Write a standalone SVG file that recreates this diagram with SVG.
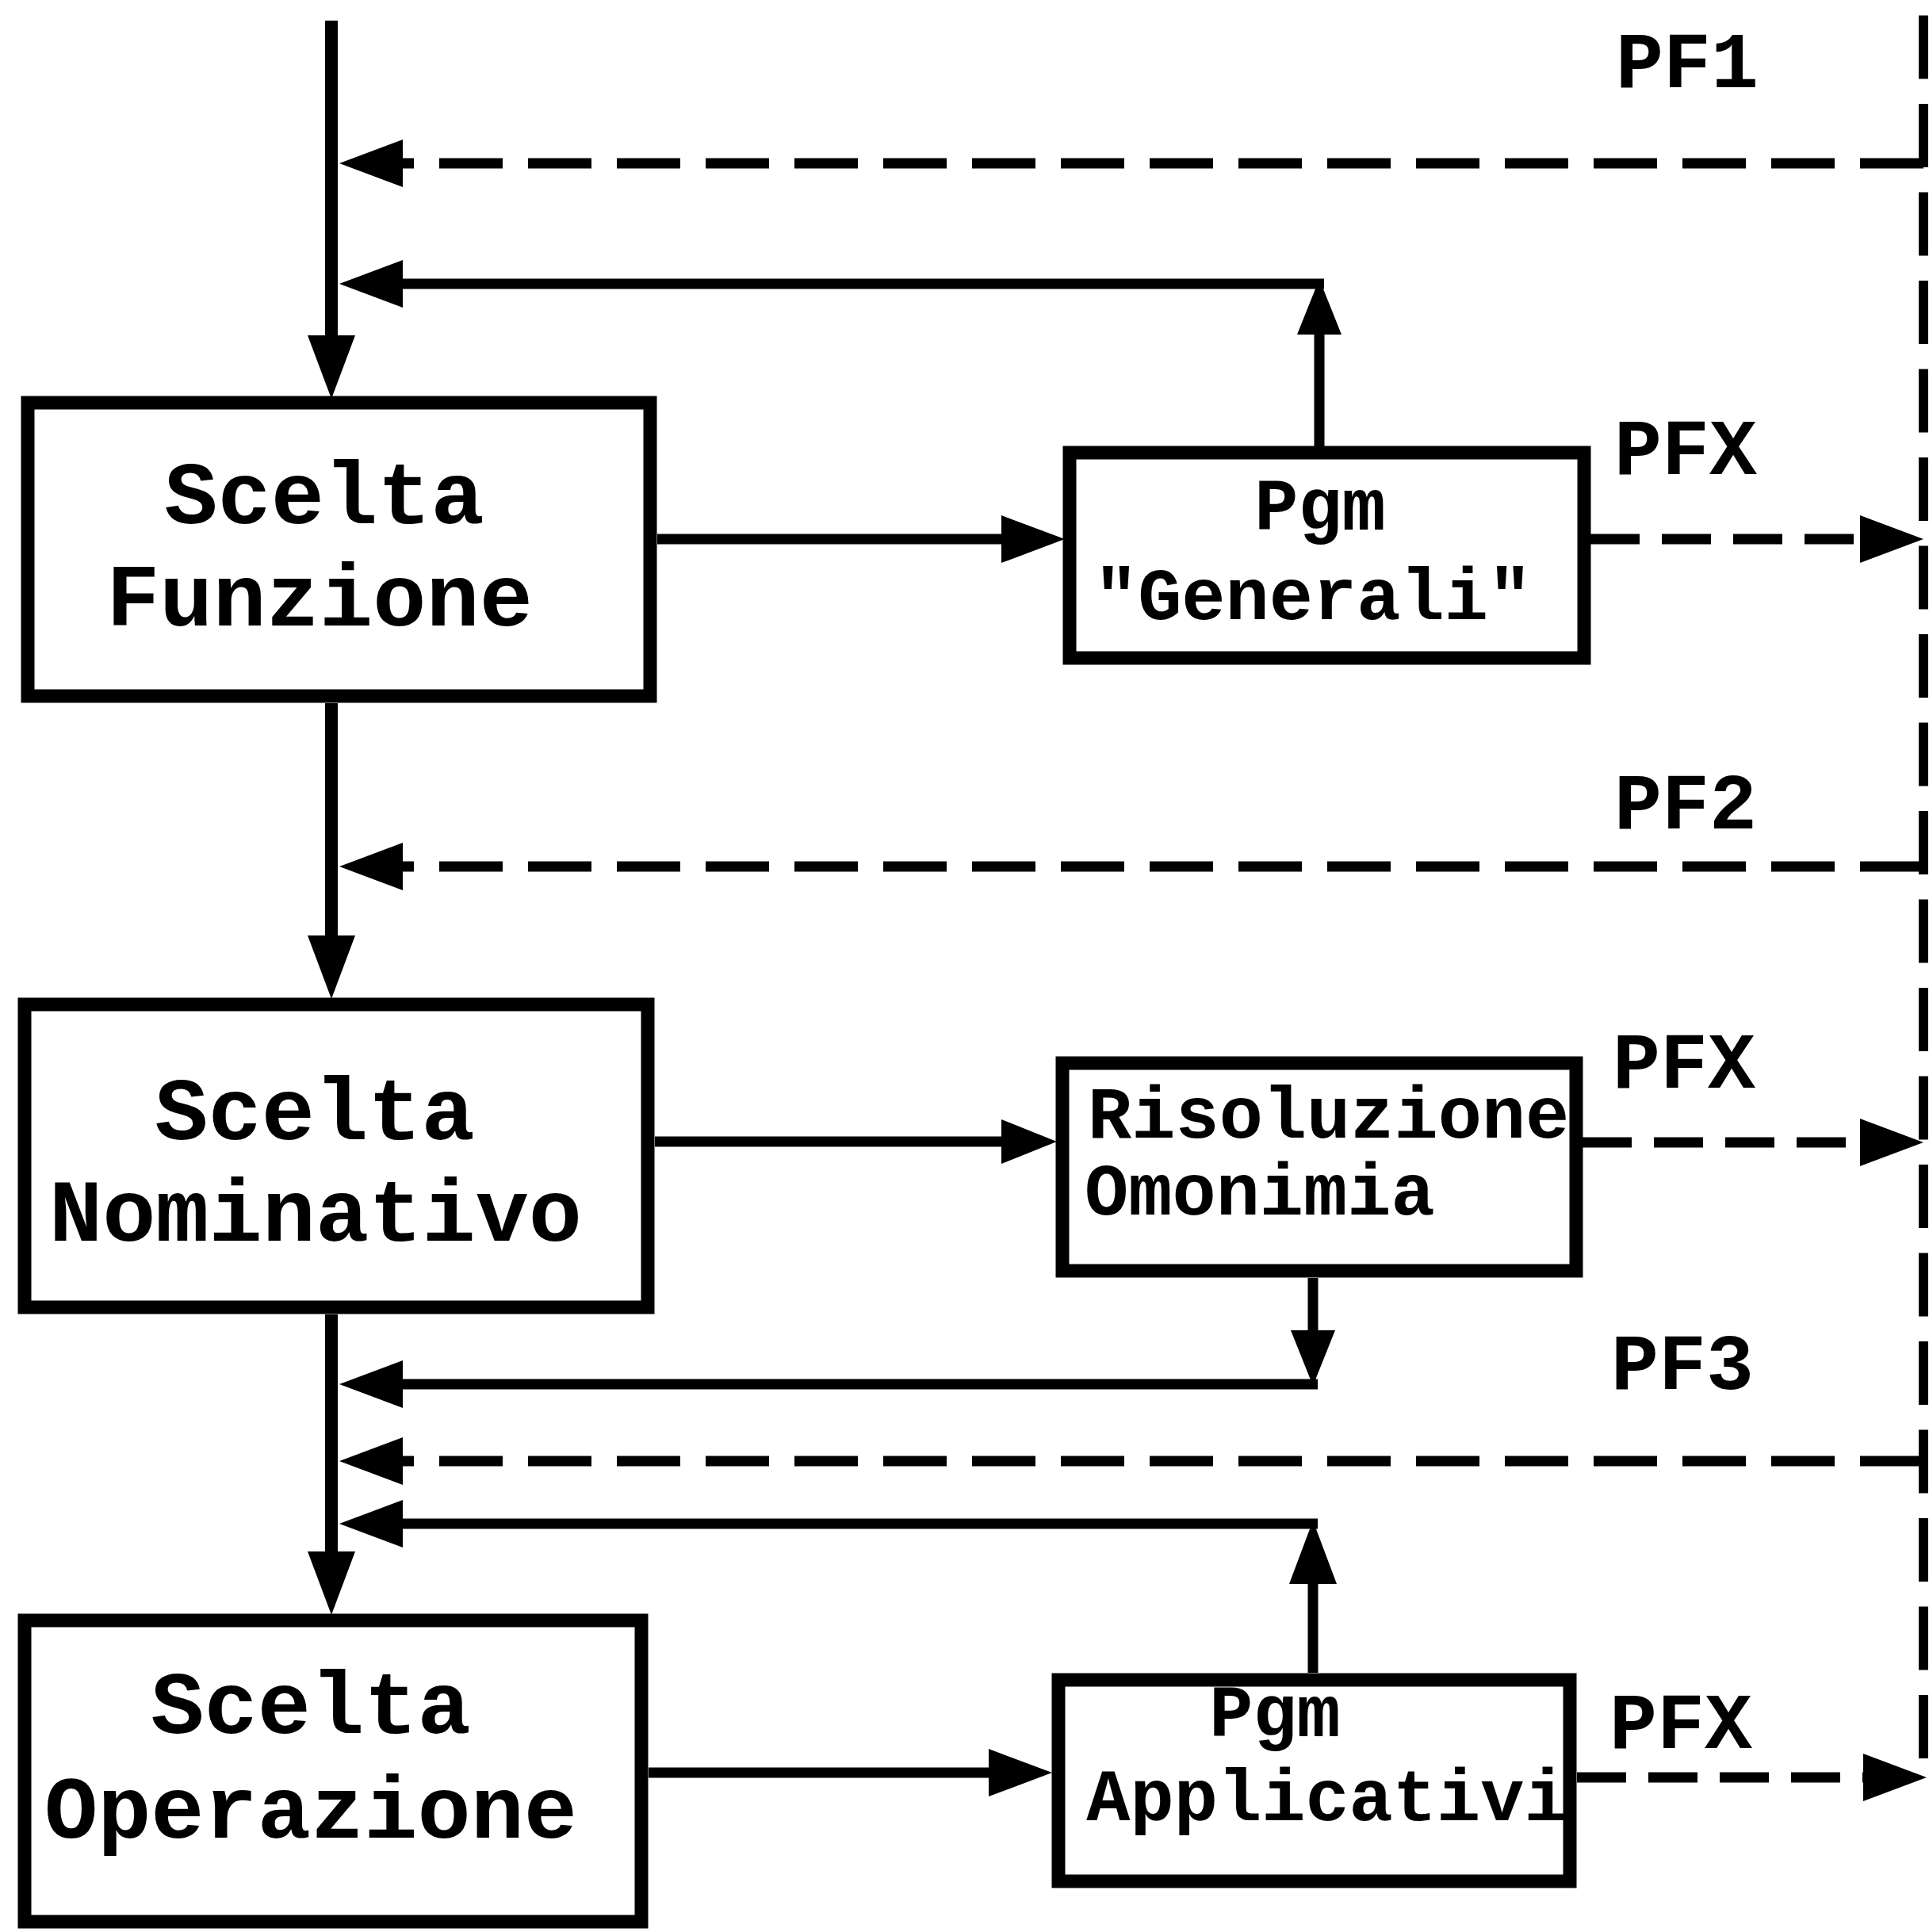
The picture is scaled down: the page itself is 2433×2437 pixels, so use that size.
<svg xmlns="http://www.w3.org/2000/svg" width="2433" height="2437" viewBox="0 0 2433 2437">
  <style>
    .box { fill: #ffffff; stroke: #000000; stroke-width: 17; }
    .txt { font-family: "Liberation Mono", "DejaVu Sans Mono", monospace; font-weight: bold; fill: #000000; }
    .big { font-size: 112px; }
    .small { font-size: 92px; }
    .pf { font-size: 100px; }
    .ln { stroke: #000000; stroke-width: 13; fill: none; }
    .trunk { stroke-width: 16; }
    .dash { stroke-dasharray: 80 32; }
    .dash2 { stroke-dasharray: 62 28; }
    .edge { stroke-width: 12; stroke-dasharray: 80 31.5; }
  </style>
  <defs>
    <!-- arrowheads: the line stops halfway into the head so its end is hidden -->
    <marker id="ah" markerUnits="userSpaceOnUse" viewBox="0 0 80 64" refX="40" refY="32" markerWidth="80" markerHeight="64" orient="auto">
      <path d="M0,2 L80,32 L0,62 Z" fill="#000000"/>
    </marker>
    <marker id="ahs" markerUnits="userSpaceOnUse" viewBox="0 0 70 60" refX="35" refY="30" markerWidth="70" markerHeight="60" orient="auto">
      <path d="M0,2 L70,30 L0,58 Z" fill="#000000"/>
    </marker>
  </defs>

  <!-- connectors -->
  <g id="connectors">
    <!-- main flow trunk -->
    <path class="ln trunk" d="M418,26 V463" marker-end="url(#ah)"/>
    <path class="ln trunk" d="M418,887 V1220" marker-end="url(#ah)"/>
    <path class="ln trunk" d="M418,1658 V1997" marker-end="url(#ah)"/>

    <!-- right-hand dashed bus -->
    <path class="ln edge" d="M2426,2218 V0"/>

    <!-- PF1 return -->
    <path class="ln dash" d="M2426,206 H468" marker-end="url(#ah)"/>
    <!-- return from Pgm "Generali" -->
    <path class="ln" d="M1664,571 V387" marker-end="url(#ahs)"/>
    <path class="ln" d="M1670,358 H468" marker-end="url(#ah)"/>
    <!-- Scelta Funzione to Pgm "Generali" -->
    <path class="ln" d="M829,680 H1303" marker-end="url(#ah)"/>
    <!-- PFX out of Pgm "Generali" -->
    <path class="ln dash2" d="M2006,680 H2386" marker-end="url(#ah)"/>

    <!-- PF2 return -->
    <path class="ln dash" d="M2426,1093 H468" marker-end="url(#ah)"/>
    <!-- Scelta Nominativo to Risoluzione Omonimia -->
    <path class="ln" d="M826,1440 H1298" marker-end="url(#ahs)"/>
    <!-- PFX out of Risoluzione Omonimia -->
    <path class="ln dash2" d="M1996,1441 H2386" marker-end="url(#ah)"/>
    <!-- return from Risoluzione Omonimia -->
    <path class="ln" d="M1656,1612 V1713" marker-end="url(#ahs)"/>
    <path class="ln" d="M1662,1746 H468" marker-end="url(#ah)"/>

    <!-- PF3 return -->
    <path class="ln dash" d="M2426,1843 H468" marker-end="url(#ah)"/>
    <!-- return from Pgm Applicativi -->
    <path class="ln" d="M1656,2110 V1958" marker-end="url(#ah)"/>
    <path class="ln" d="M1662,1922 H468" marker-end="url(#ah)"/>
    <!-- Scelta Operazione to Pgm Applicativi -->
    <path class="ln" d="M818,2236 H1287" marker-end="url(#ah)"/>
    <!-- PFX out of Pgm Applicativi -->
    <path class="ln dash2" d="M1989,2242 H2390" marker-end="url(#ah)"/>
  </g>

  <!-- PF key labels -->
  <g id="labels" class="txt pf">
    <text x="2038" y="110">PF1</text>
    <text x="2036" y="598">PFX</text>
    <text x="2036" y="1045">PF2</text>
    <text x="2034" y="1372">PFX</text>
    <text x="2032" y="1752">PF3</text>
    <text x="2030" y="2205">PFX</text>
  </g>

  <!-- nodes -->
  <g id="scelta-funzione">
    <rect class="box" x="35" y="508" width="785" height="370"/>
    <text class="txt big" x="409" y="660" text-anchor="middle">Scelta</text>
    <text class="txt big" x="403" y="789" text-anchor="middle">Funzione</text>
  </g>

  <g id="pgm-generali">
    <rect class="box" x="1349" y="571" width="649" height="259"/>
    <text class="txt small" x="1665" y="668" text-anchor="middle">Pgm</text>
    <text class="txt small" x="1656" y="781" text-anchor="middle">"Generali"</text>
  </g>

  <g id="scelta-nominativo">
    <rect class="box" x="31" y="1267" width="786" height="382"/>
    <text class="txt big" x="397" y="1437" text-anchor="middle">Scelta</text>
    <text class="txt big" x="398" y="1565" text-anchor="middle">Nominativo</text>
  </g>

  <g id="risoluzione-omonimia">
    <rect class="box" x="1340" y="1341" width="648" height="262"/>
    <text class="txt small" x="1372" y="1435">Risoluzione</text>
    <text class="txt small" x="1368" y="1532">Omonimia</text>
  </g>

  <g id="scelta-operazione">
    <rect class="box" x="31" y="2044" width="778" height="380"/>
    <text class="txt big" x="392" y="2186" text-anchor="middle">Scelta</text>
    <text class="txt big" x="392" y="2318" text-anchor="middle">Operazione</text>
  </g>

  <g id="pgm-applicativi">
    <rect class="box" x="1335" y="2119" width="645" height="254"/>
    <text class="txt small" x="1608" y="2190" text-anchor="middle">Pgm</text>
    <text class="txt small" x="1674" y="2296" text-anchor="middle">Applicativi</text>
  </g>
</svg>
